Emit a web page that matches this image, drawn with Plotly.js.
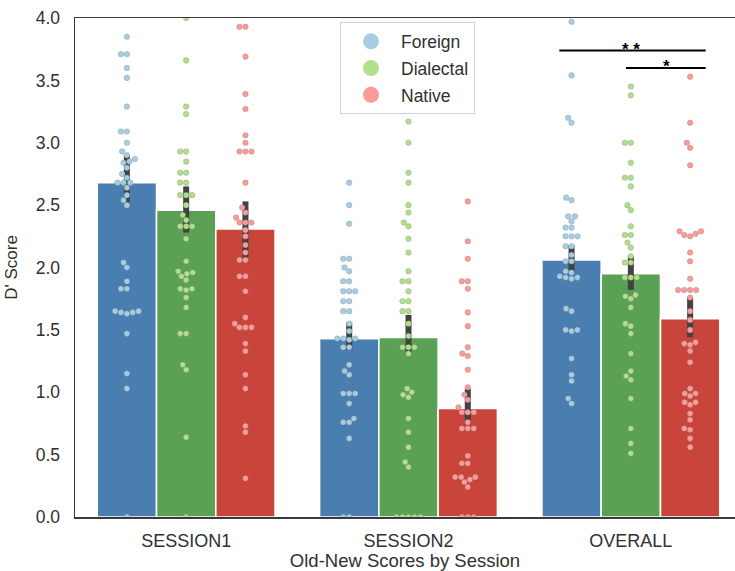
<!DOCTYPE html>
<html>
<head>
<meta charset="utf-8">
<script src="https://cdn.plot.ly/plotly-3.0.1.min.js"></script>
<style>
  html, body { margin: 0; padding: 0; background: #fff; }
  #chart { width: 735px; height: 571px; }
</style>
</head>
<body>
<div id="chart"></div>
<script>
// Sessions on the x axis and the three speaker groups
const categories = ['SESSION1', 'SESSION2', 'OVERALL'];
const groups = ['Foreign', 'Dialectal', 'Native'];

// Mean D' per session (bar heights)
const meanForeign   = [2.68, 1.43, 2.06];
const meanDialectal = [2.46, 1.44, 1.95];
const meanNative    = [2.31, 0.87, 1.59];

// Confidence interval bounds per session
const ciLowForeign    = [2.52, 1.34, 1.96];
const ciHighForeign   = [2.90, 1.56, 2.18];
const ciLowDialectal  = [2.28, 1.31, 1.82];
const ciHighDialectal = [2.65, 1.62, 2.09];
const ciLowNative     = [2.08, 0.74, 1.44];
const ciHighNative    = [2.53, 1.03, 1.76];

// Individual participant scores
const s1Foreign = [3.85, 3.71, 3.71, 3.60, 3.52, 3.29, 3.09, 3.09, 3.00, 2.93, 2.90, 2.87, 2.85, 2.84,
  2.80, 2.75, 2.72, 2.68, 2.68, 2.68, 2.64, 2.58, 2.54, 2.50, 2.04, 2.00, 1.89, 1.83, 1.83,
  1.65, 1.65, 1.64, 1.64, 1.63, 1.47, 1.15, 1.03, 0.00];
const s1Dialectal = [4.00, 3.66, 3.29, 3.23, 2.93, 2.93, 2.85, 2.76, 2.76, 2.68, 2.68, 2.58, 2.58,
  2.58, 2.50, 2.42, 2.38, 2.33, 2.33, 2.33, 2.23, 2.05, 1.97, 1.96, 1.95, 1.93, 1.90, 1.83, 1.83,
  1.82, 1.76, 1.68, 1.47, 1.47, 1.22, 1.18, 0.64, 0.00];
const s1Native = [3.93, 3.93, 3.69, 3.39, 3.27, 3.06, 3.00, 2.93, 2.93, 2.93, 2.68, 2.48, 2.44, 2.40,
  2.36, 2.36, 2.36, 2.30, 2.25, 2.18, 2.12, 2.06, 2.06, 1.93, 1.93, 1.81, 1.60, 1.55, 1.52, 1.52,
  1.52, 1.39, 1.33, 1.14, 1.03, 0.73, 0.68, 0.31];
const s2Foreign = [2.68, 2.50, 2.35, 2.07, 2.07, 2.00, 1.97, 1.89, 1.89, 1.81, 1.81, 1.81, 1.73, 1.73,
  1.65, 1.65, 1.55, 1.49, 1.43, 1.43, 1.43, 1.42, 1.36, 1.36, 1.22, 1.17, 1.14, 0.99, 0.99, 0.99,
  0.91, 0.79, 0.76, 0.76, 0.63, 0.00, 0.00];
const s2Dialectal = [3.17, 3.00, 2.76, 2.68, 2.50, 2.44, 2.36, 2.33, 2.23, 2.12, 1.97, 1.89, 1.89,
  1.81, 1.73, 1.73, 1.65, 1.65, 1.55, 1.45, 1.36, 1.36, 1.36, 1.31, 1.03, 1.00, 0.98, 0.96, 0.79,
  0.68, 0.56, 0.44, 0.40, 0.00, 0.00, 0.00, 0.00, 0.00];
const s2Native = [2.53, 2.21, 2.07, 1.89, 1.89, 1.83, 1.64, 1.53, 1.36, 1.31, 1.29, 1.18, 1.04, 0.98,
  0.94, 0.88, 0.84, 0.84, 0.84, 0.76, 0.71, 0.71, 0.71, 0.49, 0.43, 0.43, 0.32, 0.32, 0.32, 0.30,
  0.28, 0.24, 0.00, 0.00, 0.00];
const allForeign = [3.97, 3.54, 3.20, 3.16, 2.56, 2.54, 2.41, 2.41, 2.37, 2.32, 2.32, 2.25, 2.25,
  2.25, 2.17, 2.17, 2.10, 2.05, 2.05, 1.97, 1.96, 1.93, 1.92, 1.92, 1.91, 1.67, 1.65, 1.50, 1.50,
  1.49, 1.27, 1.14, 1.09, 0.95, 0.91];
const allDialectal = [3.45, 3.38, 3.00, 3.00, 2.84, 2.72, 2.72, 2.65, 2.50, 2.46, 2.33, 2.26, 2.26,
  2.20, 2.16, 2.09, 2.04, 2.04, 1.92, 1.92, 1.92, 1.78, 1.77, 1.75, 1.68, 1.55, 1.53, 1.47, 1.31,
  1.17, 1.13, 1.10, 0.95, 0.71, 0.59, 0.51];
const allNative = [3.53, 3.16, 3.00, 2.96, 2.82, 2.29, 2.27, 2.25, 2.26, 2.29, 2.12, 2.05, 1.91,
  1.82, 1.82, 1.82, 1.82, 1.76, 1.65, 1.58, 1.50, 1.40, 1.39, 1.38, 1.33, 1.24, 1.03, 0.99, 0.99,
  0.97, 0.92, 0.92, 0.90, 0.83, 0.78, 0.71, 0.70, 0.63, 0.56];

// Significance markers on the OVERALL group
const sigLabels = ['* *', '*'];

// ---------------------------------------------------------------------------
const FONT = 'Liberation Sans, Arial, Helvetica, sans-serif';
const TEXT = '#303030';
const barColors = ['#4a7db0', '#5aa055', '#c9443b'];
const dotColors = ['#a6cee3', '#b2df8a', '#fb9a99'];

const means = [meanForeign, meanDialectal, meanNative];
const ciLow = [ciLowForeign, ciLowDialectal, ciLowNative];
const ciHigh = [ciHighForeign, ciHighDialectal, ciHighNative];
const scores = [
  [s1Foreign, s2Foreign, allForeign],
  [s1Dialectal, s2Dialectal, allDialectal],
  [s1Native, s2Native, allNative]
];

const W = 735, H = 571;
const margin = { l: 75, r: 0, t: 18, b: 54 };
const xRange = [-0.5, 2.4685];
const yRange = [0, 4];
const pxPerX = (W - margin.l - margin.r) / (xRange[1] - xRange[0]);
const pxPerY = (H - margin.t - margin.b) / (yRange[1] - yRange[0]);

const groupWidth = 0.8;
const barW = groupWidth / groups.length;
const hueOffset = groups.map((_, i) => (i - (groups.length - 1) / 2) * barW);

// Beeswarm placement: each point goes to the free spot closest to the centre line
function swarmOffsets(vals, diam) {
  const order = vals.map((v, i) => i).sort((a, b) => vals[a] - vals[b]);
  const placed = [];
  const out = new Array(vals.length).fill(0);
  order.forEach(i => {
    const y = vals[i] * pxPerY;
    const near = placed.filter(p => Math.abs(p.y - y) < diam);
    const cands = [0];
    near.forEach(p => {
      const dx = Math.sqrt(diam * diam - (p.y - y) * (p.y - y));
      cands.push(p.x - dx, p.x + dx);
    });
    cands.sort((a, b) => Math.abs(a) - Math.abs(b));
    let best = 0;
    for (const c of cands) {
      if (near.every(p => (p.x - c) * (p.x - c) + (p.y - y) * (p.y - y) >= diam * diam - 1e-6)) {
        best = c; break;
      }
    }
    placed.push({ x: best, y: y });
    out[i] = best / pxPerX;
  });
  return out;
}

const traces = [];

// Mean bars with CI whiskers
groups.forEach((g, h) => {
  traces.push({
    type: 'bar',
    name: g,
    x: categories.map((_, i) => i),
    y: means[h],
    marker: { color: barColors[h], line: { color: '#ffffff', width: 1.6 } },
    error_y: {
      type: 'data', symmetric: false,
      array: means[h].map((m, i) => ciHigh[h][i] - m),
      arrayminus: means[h].map((m, i) => m - ciLow[h][i]),
      color: '#424242', thickness: 6, width: 0
    },
    showlegend: false,
    hoverinfo: 'skip'
  });
});

// Individual scores as swarms
const DOT = 6;
groups.forEach((g, h) => {
  const xs = [], ys = [];
  categories.forEach((c, i) => {
    const vals = scores[h][i];
    const off = swarmOffsets(vals, DOT);
    vals.forEach((v, k) => { xs.push(i + hueOffset[h] + off[k]); ys.push(v); });
  });
  traces.push({
    type: 'scatter', mode: 'markers',
    x: xs, y: ys,
    marker: { size: 5.6, color: dotColors[h], line: { color: 'rgba(120,120,120,0.55)', width: 0.5 } },
    showlegend: false,
    hoverinfo: 'y'
  });
});

// Legend entries
groups.forEach((g, h) => {
  traces.push({
    type: 'scatter', mode: 'markers', name: g,
    x: [null], y: [null],
    marker: { size: 16, color: dotColors[h] },
    legendgroup: g,
    showlegend: true
  });
});

// Significance brackets (OVERALL group)
const bracketSpan = [
  [2 + hueOffset[0] - 0.055, 2 + hueOffset[2] + 0.07, 3.74],
  [2 + hueOffset[1] - 0.022, 2 + hueOffset[2] + 0.07, 3.60]
];
const shapes = bracketSpan.map(b => ({
  type: 'line', xref: 'x', yref: 'y',
  x0: b[0], x1: b[1], y0: b[2], y1: b[2],
  line: { color: '#000000', width: 2 }
}));
const annotations = bracketSpan.map((b, i) => ({
  xref: 'x', yref: 'y',
  x: (i === 0) ? 2 : 2 + hueOffset[2] / 2 + 0.025, y: b[2],
  text: '<b>' + sigLabels[i] + '</b>', showarrow: false,
  yanchor: 'middle', yshift: 1,
  font: { family: FONT, size: 17, color: '#000000' }
}));

const layout = {
  width: W, height: H,
  margin: margin,
  paper_bgcolor: '#ffffff',
  plot_bgcolor: '#ffffff',
  barmode: 'group',
  bargap: 1 - groupWidth,
  bargroupgap: 0,
  font: { family: FONT, size: 17, color: TEXT },
  showlegend: true,
  legend: {
    x: 0.4015, y: 0.991, xanchor: 'left', yanchor: 'top',
    bgcolor: 'rgba(255,255,255,0.85)',
    bordercolor: '#d4d4d4', borderwidth: 1,
    font: { family: FONT, size: 17.5, color: TEXT },
    tracegroupgap: 1,
    itemwidth: 50
  },
  xaxis: {
    range: xRange,
    tickmode: 'array',
    tickvals: categories.map((_, i) => i),
    ticktext: categories,
    showgrid: false, zeroline: false,
    showline: true, mirror: true,
    linecolor: '#3a3a3a', linewidth: 1.5,
    ticks: '',
    ticklabelstandoff: 7,
    tickfont: { family: FONT, size: 18, color: TEXT },
    title: { text: 'Old-New Scores by Session', font: { family: FONT, size: 18.5, color: TEXT }, standoff: 4 }
  },
  yaxis: {
    range: yRange,
    dtick: 0.5,
    tickformat: '.1f',
    showgrid: false, zeroline: false,
    showline: true, mirror: false,
    linecolor: '#3a3a3a', linewidth: 1.5,
    ticks: '',
    ticklabelstandoff: 10,
    tickfont: { family: FONT, size: 17.5, color: TEXT },
    title: { text: "D' Score", font: { family: FONT, size: 17, color: TEXT }, standoff: 13 }
  },
  shapes: shapes,
  annotations: annotations
};

Plotly.newPlot('chart', traces, layout, { displayModeBar: false, staticPlot: true });
</script>
</body>
</html>
